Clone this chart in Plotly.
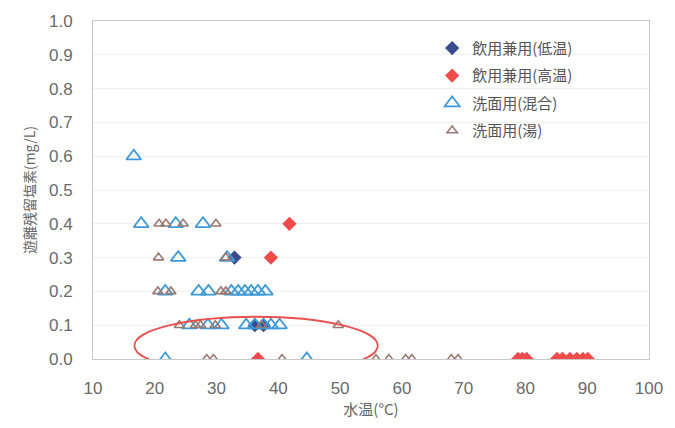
import plotly.graph_objects as go

# 飲用兼用(低温)
low_x = [32.9, 36.2, 37.6]
low_y = [0.3, 0.1, 0.1]
# 飲用兼用(高温)
high_x = [41.8, 38.8, 36.7, 78.8, 79.5, 80.2, 85.1, 86.0, 87.2, 88.3, 89.3, 90.1]
high_y = [0.4, 0.3, 0.0, 0.0, 0.0, 0.0, 0.0, 0.0, 0.0, 0.0, 0.0, 0.0]
# 洗面用(混合)
mix_x = [16.6,
         17.8, 23.4, 27.8,
         23.8, 31.7,
         21.7, 27.1, 28.7, 32.4, 33.5, 34.6, 35.6, 36.7, 37.9,
         25.6, 28.6, 30.8, 34.8, 36.2, 37.6, 38.8, 40.2,
         21.7, 44.6]
mix_y = [0.6,
         0.4, 0.4, 0.4,
         0.3, 0.3,
         0.2, 0.2, 0.2, 0.2, 0.2, 0.2, 0.2, 0.2, 0.2,
         0.1, 0.1, 0.1, 0.1, 0.1, 0.1, 0.1, 0.1,
         0.0, 0.0]
# 洗面用(湯)
hot_x = [20.7, 21.8, 24.6, 29.9,
         20.6, 31.5,
         20.5, 22.6, 30.7, 31.5,
         24.0, 26.6, 27.4, 29.8, 37.3, 49.7,
         28.4, 29.5, 40.6, 55.8, 57.9, 60.6, 61.6, 68.0, 69.1]
hot_y = [0.4, 0.4, 0.4, 0.4,
         0.3, 0.3,
         0.2, 0.2, 0.2, 0.2,
         0.1, 0.1, 0.1, 0.1, 0.1, 0.1,
         0.0, 0.0, 0.0, 0.0, 0.0, 0.0, 0.0, 0.0, 0.0]

x_ticks = [10, 20, 30, 40, 50, 60, 70, 80, 90, 100]
y_ticks = [0.0, 0.1, 0.2, 0.3, 0.4, 0.5, 0.6, 0.7, 0.8, 0.9, 1.0]

# ellipse (data coords)
ell_x0, ell_x1, ell_y0, ell_y1 = 16.7, 56.1, -0.046, 0.125

fig = go.Figure()
fig.add_trace(go.Scatter(x=low_x, y=low_y, mode="markers", name="飲用兼用(低温)", legendgroup="a",
                         marker=dict(symbol="diamond", size=11, color="#3b4a8e")))
fig.add_trace(go.Scatter(x=high_x, y=high_y, mode="markers", name="飲用兼用(高温)", legendgroup="b",
                         marker=dict(symbol="diamond", size=11, color="#f24b4b")))
fig.add_trace(go.Scatter(x=mix_x, y=mix_y, mode="markers", name="洗面用(混合)", legendgroup="c",
                         marker=dict(symbol="triangle-up-open", size=13, color="#3d9ad8",
                                     line=dict(width=1.8, color="#3d9ad8"))))
fig.add_trace(go.Scatter(x=hot_x, y=hot_y, mode="markers", name="洗面用(湯)", legendgroup="d",
                         marker=dict(symbol="triangle-up-open", size=9, color="#9a7a72",
                                     line=dict(width=1.6, color="#9a7a72"))))

fig.add_shape(type="circle", xref="x", yref="y", x0=ell_x0, x1=ell_x1, y0=ell_y0, y1=ell_y1,
              line=dict(color="#e8524e", width=1.8), layer="above")

font_main = "Liberation Sans, Arial, Noto Sans CJK JP"
fig.update_layout(
    width=675, height=428,
    margin=dict(l=93, r=20, t=14, b=69),
    paper_bgcolor="white", plot_bgcolor="white",
    font=dict(family=font_main, color="#6a6a6a", size=17),
    showlegend=True,
    legend=dict(x=0.61, y=0.968, xanchor="left", yanchor="top",
                font=dict(family="Noto Sans CJK JP", size=15, color="#555555"),
                bgcolor="rgba(0,0,0,0)", itemsizing="trace", tracegroupgap=5),
    xaxis=dict(range=[10, 100], tickvals=x_ticks, ticks="", showgrid=False,
               showline=True, linecolor="#c8c8c8", linewidth=1, mirror=True,
               zeroline=False, ticklabelstandoff=14,
               title=dict(text="水温(°C)", font=dict(family="Noto Sans CJK JP", size=15, color="#666666"),
                          standoff=6)),
    yaxis=dict(range=[0, 1.0], tickvals=y_ticks, tickformat=".1f", ticks="",
               showgrid=True, gridcolor="#f0f0f0", gridwidth=1,
               showline=True, linecolor="#c8c8c8", linewidth=1, mirror=True,
               zeroline=False, ticklabelstandoff=16,
               title=dict(text="遊離残留塩素(mg/L)", font=dict(family="Noto Sans CJK JP", size=14, color="#666666"),
                          standoff=10)),
)
fig.write_html("out.html")
